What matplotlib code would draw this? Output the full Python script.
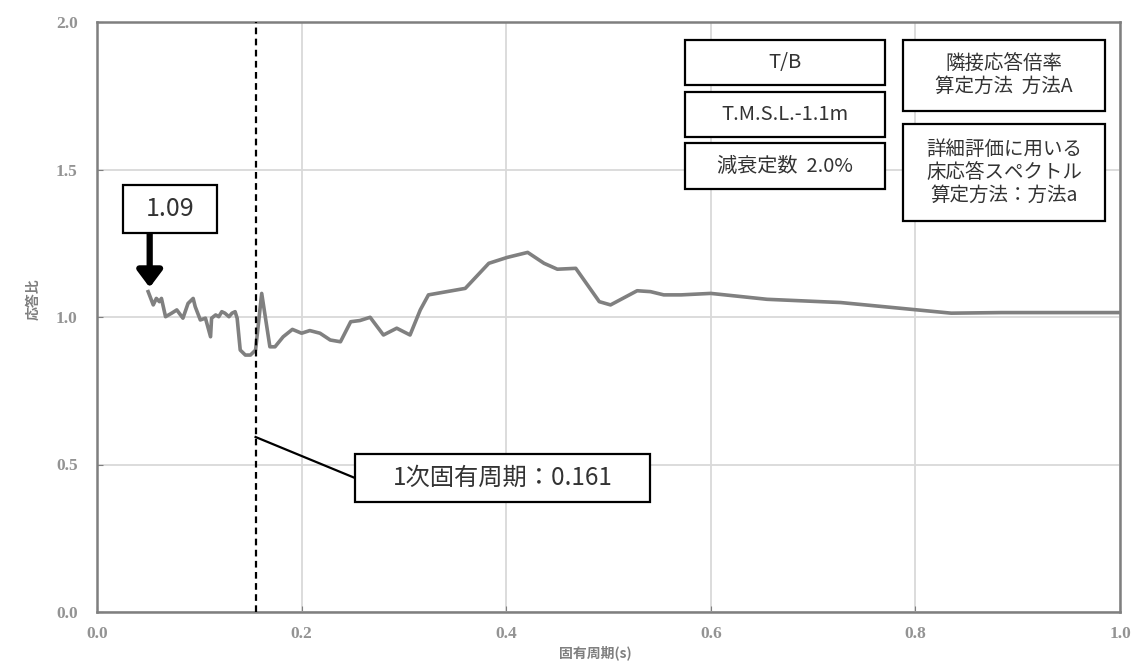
import matplotlib
matplotlib.use("Agg")
import matplotlib.pyplot as plt
from matplotlib.patches import Rectangle

# response ratio vs natural period
period = [0.050, 0.055, 0.058, 0.061, 0.063, 0.067, 0.073, 0.078, 0.084, 0.089,
          0.094, 0.096, 0.101, 0.106, 0.111, 0.112, 0.116, 0.119, 0.122, 0.125,
          0.129, 0.132, 0.135, 0.137, 0.140, 0.145, 0.150, 0.155, 0.161, 0.169,
          0.174, 0.182, 0.191, 0.200, 0.208, 0.218, 0.228, 0.238, 0.248, 0.257,
          0.267, 0.280, 0.293, 0.306, 0.316, 0.324, 0.360, 0.383, 0.401, 0.421,
          0.437, 0.450, 0.468, 0.491, 0.502, 0.528, 0.541, 0.554, 0.571, 0.600,
          0.655, 0.727, 0.796, 0.835, 0.884, 0.991, 1.000]
ratio = [1.086, 1.041, 1.063, 1.052, 1.063, 1.001, 1.013, 1.024, 0.996, 1.046,
         1.063, 1.035, 0.990, 0.996, 0.933, 0.996, 1.007, 1.001, 1.018, 1.013,
         1.001, 1.013, 1.018, 0.996, 0.888, 0.871, 0.871, 0.888, 1.080, 0.899,
         0.899, 0.933, 0.958, 0.945, 0.954, 0.945, 0.922, 0.916, 0.984, 0.988,
         0.999, 0.939, 0.962, 0.939, 1.024, 1.075, 1.097, 1.182, 1.202, 1.219,
         1.182, 1.162, 1.165, 1.052, 1.041, 1.089, 1.086, 1.075, 1.075, 1.080,
         1.060, 1.049, 1.026, 1.013, 1.015, 1.015, 1.015]

peak_x, peak_y = 0.050, 1.09
first_period_line = 0.155
first_period_label = "1次固有周期：0.161"

info_left = ["T/B", "T.M.S.L.-1.1m", "減衰定数  2.0%"]
info_right = ["隣接応答倍率\n算定方法  方法A", "詳細評価に用いる\n床応答スペクトル\n算定方法：方法a"]

W, H = 1139, 664
fig = plt.figure(figsize=(W / 100, H / 100), dpi=100)
ax = fig.add_axes([97 / W, 1 - 612 / H, 1023 / W, 590 / H])

cjk = ["Noto Sans CJK JP", "DejaVu Sans"]
gray = "#7f7f7f"

ax.plot(period, ratio, color="#808080", lw=2.6, zorder=3)
ax.axvline(first_period_line, color="black", lw=1.6, ls=(0, (3, 2)), zorder=4)

ax.set_xlim(0, 1.0)
ax.set_ylim(0, 2.0)
ax.set_xticks([0.0, 0.2, 0.4, 0.6, 0.8, 1.0])
ax.set_yticks([0.0, 0.5, 1.0, 1.5, 2.0])
ax.set_xticklabels(["0.0", "0.2", "0.4", "0.6", "0.8", "1.0"], family="Liberation Serif",
                   fontsize=12.5, color="#939393", fontweight="bold")
ax.set_yticklabels(["0.0", "0.5", "1.0", "1.5", "2.0"], family="Liberation Serif",
                   fontsize=12.5, color="#939393", fontweight="bold")
ax.tick_params(direction="in", length=4, color=gray)
ax.tick_params(axis="x", pad=10)
ax.tick_params(axis="y", pad=14)
ax.grid(True, color="#d9d9d9", lw=1.3)
for s in ax.spines.values():
    s.set_color(gray)
    s.set_linewidth(1.8)

ax.set_xlabel("固有周期(s)", family=cjk, fontsize=10, color=gray, fontweight="bold")
ax.set_ylabel("応答比", family=cjk, fontsize=10, color=gray, fontweight="bold")
ax.xaxis.set_label_coords(0.487, -0.056)
ax.yaxis.set_label_coords(-0.055, 0.53)


def box(x0, y0, x1, y1, text, size):
    fig.add_artist(Rectangle((x0 / W, 1 - y1 / H), (x1 - x0) / W, (y1 - y0) / H,
                             transform=fig.transFigure, facecolor="white",
                             edgecolor="black", lw=1.6, zorder=5))
    fig.text((x0 + x1) / 2 / W, 1 - (y0 + y1) / 2 / H, text, family=cjk, fontsize=size,
             color="#333333", ha="center", va="center", linespacing=1.1, zorder=6)


# info boxes, top right
box(685, 40, 885, 85, info_left[0], 14.5)
box(685, 92, 885, 137, info_left[1], 14.5)
box(685, 143, 885, 189, info_left[2], 14.5)
box(903, 40, 1105, 111, info_right[0], 14)
box(903, 124, 1105, 221, info_right[1], 14)

# peak label with arrow
box(123, 185, 217, 233, f"{peak_y:.2f}", 18)
ax.annotate("", xy=(peak_x + 0.0015, peak_y + 0.01), xytext=(peak_x + 0.0015, 1.285),
            arrowprops=dict(arrowstyle="-|>,head_length=1.0,head_width=0.75",
                            lw=4.5, color="black", shrinkA=0, shrinkB=0), zorder=6)

# first natural period label with leader line
ax.plot([first_period_line, (355 - 97) / 1023], [(612 - 437) / 295, (612 - 478) / 295],
        color="black", lw=1.6, zorder=4)
box(355, 454, 650, 502, first_period_label, 17.5)

fig.savefig("out.png", dpi=100)
